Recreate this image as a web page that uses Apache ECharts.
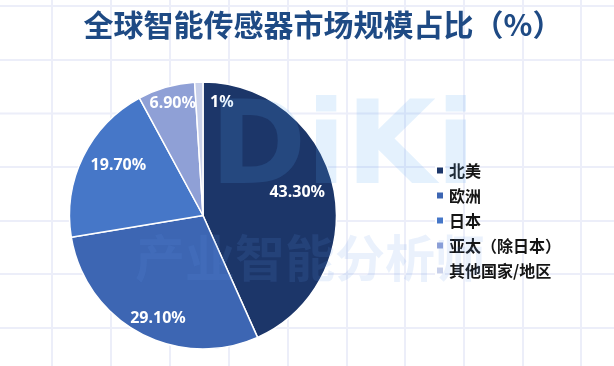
<!DOCTYPE html>
<html>
<head>
<meta charset="utf-8">
<script src="https://cdn.jsdelivr.net/npm/echarts@6/dist/echarts.min.js"></script>
<style>
html,body{margin:0;padding:0;background:#fff;}
#chart{width:614px;height:366px;}
</style>
</head>
<body>
<div id="chart"></div>
<script>
const titleText = '全球智能传感器市场规模占比（%）';
const categories = ['北美', '欧洲', '日本', '亚太（除日本）', '其他国家/地区'];
const values = [43.3, 29.1, 19.7, 6.9, 1];
const valueLabels = ['43.30%', '29.10%', '19.70%', '6.90%', '1%'];

const colors = ['#1c3669', '#3d66b3', '#4677c8', '#8fa0d6', '#c8d0ea'];
const labelOffsets = [[26, -8], [-12, 42], [-22, -19], [-11, -45], [21, -43]];

const chart = echarts.init(document.getElementById('chart'), null, {renderer: 'canvas'});

// background grid decoration
const gridGraphics = [];
const vx = [52, 111, 170, 229, 288, 347, 405, 464, 523, 581];
const hy = [6, 60, 113.5, 167, 221, 274, 328];
vx.forEach(x => gridGraphics.push({type: 'line', z: -10, silent: true,
  shape: {x1: x, y1: 0, x2: x, y2: 366}, style: {stroke: '#eceef9', lineWidth: 2}}));
hy.forEach(y => gridGraphics.push({type: 'line', z: -10, silent: true,
  shape: {x1: 0, y1: y, x2: 614, y2: y}, style: {stroke: '#eceef9', lineWidth: 2}}));

// watermark
const watermark = [
  {type: 'text', z: 100, silent: true, left: 210, top: 95,
   style: {text: 'DiKi', font: 'bold 116px "DejaVu Sans"', fill: 'rgba(90,170,240,0.16)'}},
  {type: 'text', z: 100, silent: true, left: 135, top: 233,
   style: {text: '产业智能分析师', font: 'bold 50px "Noto Sans CJK SC"', fill: 'rgba(90,150,230,0.13)'}}
];

chart.setOption({
  backgroundColor: '#ffffff',
  animation: false,
  title: {
    text: titleText,
    left: 318,
    textAlign: 'center',
    top: 5,
    textStyle: {fontFamily: 'Noto Sans CJK SC', fontSize: 30, fontWeight: 'bold', color: '#1e4a84'}
  },
  legend: {
    orient: 'vertical',
    left: 430,
    top: 157,
    itemWidth: 8,
    itemHeight: 8,
    itemGap: 8,
    icon: 'rect',
    data: categories,
    textStyle: {fontFamily: 'Noto Sans CJK SC', fontSize: 16, fontWeight: 'bold', color: '#151515', lineHeight: 17}
  },
  graphic: gridGraphics.concat(watermark),
  series: [{
    type: 'pie',
    center: [203, 215.5],
    radius: 133.5,
    startAngle: 90,
    clockwise: true,
    silent: true,
    itemStyle: {borderColor: '#ffffff', borderWidth: 1.5},
    label: {
      show: true,
      position: 'inside',
      color: '#ffffff',
      fontFamily: 'Noto Sans',
      fontWeight: 'bold',
      fontSize: 16
    },
    labelLine: {show: false},
    data: categories.map((c, i) => ({
      name: c,
      value: values[i],
      itemStyle: {color: colors[i]},
      label: {formatter: valueLabels[i], offset: labelOffsets[i]}
    }))
  }]
});
</script>
</body>
</html>
